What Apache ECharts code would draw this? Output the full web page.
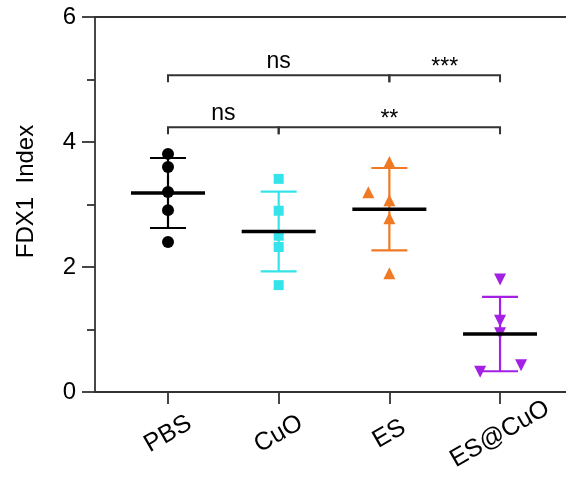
<!DOCTYPE html>
<html>
<head>
<meta charset="utf-8">
<script src="https://cdn.jsdelivr.net/npm/echarts@6/dist/echarts.min.js"></script>
<style>
  html, body { margin: 0; padding: 0; background: #ffffff; }
  #chart { width: 566px; height: 486px; }
</style>
</head>
<body>
<div id="chart"></div>
<script>
// Groups and per-animal FDX1 index values
const groups = ['PBS', 'CuO', 'ES', 'ES@CuO'];
const pbsValues = [3.81, 3.60, 3.20, 2.91, 2.40];
const cuoValues = [3.41, 2.90, 2.50, 2.32, 1.71];
const esValues = [3.68, 3.195, 3.07, 2.78, 1.90];
const esCuoValues = [1.80, 1.14, 0.94, 0.325, 0.43];
// Horizontal spread of overlapping points inside a group (category units)
const pbsSpread = [0, 0, 0, 0, 0];
const cuoSpread = [0, 0, 0, 0, 0];
const esSpread = [0, -0.19, 0, 0, 0];
const esCuoSpread = [0, 0, 0, -0.18, 0.19];
// Y axis ticks
const yTickValues = [0, 2, 4, 6];
// Pairwise comparison brackets: group positions, bracket height, significance text
const compFrom = [1, 3, 1, 2];
const compTo = [3, 4, 2, 4];
const compLevel = [5.07, 5.07, 4.235, 4.235];
const compText = ['ns', '***', 'ns', '**'];

const groupValues = [pbsValues, cuoValues, esValues, esCuoValues];
const groupSpread = [pbsSpread, cuoSpread, esSpread, esCuoSpread];
const groupColors = ['#000000', '#35e4ea', '#f07a24', '#a320e4'];
const groupSymbols = ['circle', 'rect', 'triangle', 'triangle'];
const groupSymbolSize = [12, 10, 12, 12];
const groupSymbolRotate = [0, 0, 0, 180];
const FONT = '"Liberation Sans", Arial, Helvetica, sans-serif';

function mean(a) { return a.reduce((s, v) => s + v, 0) / a.length; }
function sd(a) {
  const m = mean(a);
  return Math.sqrt(a.reduce((s, v) => s + (v - m) * (v - m), 0) / (a.length - 1));
}

const summary = groupValues.map((vals, i) => [i + 1, mean(vals), sd(vals)]);

const scatterSeries = groupValues.map((vals, i) => ({
  type: 'scatter',
  name: groups[i],
  z: 3,
  symbol: groupSymbols[i],
  symbolSize: groupSymbolSize[i],
  symbolRotate: groupSymbolRotate[i],
  itemStyle: { color: groupColors[i], opacity: 1 },
  data: vals.map((v, j) => [i + 1 + groupSpread[i][j], v]),
  silent: true
}));

// Mean ± SD whiskers with caps, drawn in the group colour
const errorBarSeries = {
  type: 'custom',
  z: 2,
  silent: true,
  data: summary,
  renderItem(params, api) {
    const x = api.value(0), m = api.value(1), s = api.value(2);
    const top = api.coord([x, m + s]);
    const bot = api.coord([x, m - s]);
    const cap = 18;
    const color = groupColors[params.dataIndex];
    const style = { stroke: color, lineWidth: 2.2 };
    return {
      type: 'group',
      children: [
        { type: 'line', shape: { x1: top[0], y1: top[1], x2: bot[0], y2: bot[1] }, style },
        { type: 'line', shape: { x1: top[0] - cap, y1: top[1], x2: top[0] + cap, y2: top[1] }, style },
        { type: 'line', shape: { x1: bot[0] - cap, y1: bot[1], x2: bot[0] + cap, y2: bot[1] }, style }
      ]
    };
  }
};

// Black mean bar across each group
const meanSeries = {
  type: 'custom',
  z: 4,
  silent: true,
  data: summary,
  renderItem(params, api) {
    const p = api.coord([api.value(0), api.value(1)]);
    const half = 37;
    return {
      type: 'line',
      shape: { x1: p[0] - half, y1: p[1], x2: p[0] + half, y2: p[1] },
      style: { stroke: '#000000', lineWidth: 3.6 }
    };
  }
};

// Significance brackets with their labels
const bracketSeries = {
  type: 'custom',
  z: 5,
  silent: true,
  clip: false,
  data: compFrom.map((f, i) => [f, compTo[i], compLevel[i]]),
  renderItem(params, api) {
    const a = api.coord([api.value(0), api.value(2)]);
    const b = api.coord([api.value(1), api.value(2)]);
    const drop = 7;
    const text = compText[params.dataIndex];
    const isStar = text.indexOf('*') >= 0;
    return {
      type: 'group',
      children: [
        {
          type: 'polyline',
          shape: { points: [[a[0], a[1] + drop], [a[0], a[1]], [b[0], b[1]], [b[0], b[1] + drop]] },
          style: { stroke: '#333333', lineWidth: 2, fill: null }
        },
        {
          type: 'text',
          style: {
            text: text,
            x: (a[0] + b[0]) / 2,
            y: isStar ? a[1] + 4 : a[1] - 2,
            align: 'center',
            verticalAlign: 'bottom',
            font: (isStar ? '23px ' : '23px ') + FONT,
            fill: '#000000'
          }
        }
      ]
    };
  }
};

const axisColor = '#333333';
const chart = echarts.init(document.getElementById('chart'), null, { renderer: 'canvas' });
chart.setOption({
  animation: false,
  backgroundColor: '#ffffff',
  grid: { left: 95, right: 0, top: 17, bottom: 94, containLabel: false },
  xAxis: [{
    type: 'value',
    min: 0.3404,
    max: 4.596,
    splitLine: { show: false },
    axisLine: { show: true, onZero: false, lineStyle: { color: axisColor, width: 1.8 } },
    axisTick: { show: true, length: 12, customValues: [1, 2, 3, 4], lineStyle: { color: axisColor, width: 1.8 } },
    axisLabel: {
      show: true,
      customValues: [1, 2, 3, 4],
      formatter: v => groups[Math.round(v) - 1],
      rotate: 30,
      align: 'center',
      verticalAlign: 'middle',
      margin: 42,
      fontSize: 25,
      fontFamily: FONT,
      color: '#000000'
    }
  }, {
    type: 'value',
    position: 'top',
    min: 0.3404,
    max: 4.596,
    splitLine: { show: false },
    axisLine: { show: true, onZero: false, lineStyle: { color: axisColor, width: 1.8 } },
    axisTick: { show: false },
    axisLabel: { show: false }
  }],
  yAxis: {
    type: 'value',
    min: yTickValues[0],
    max: yTickValues[yTickValues.length - 1],
    interval: 2,
    name: 'FDX1  Index',
    nameLocation: 'middle',
    nameGap: 57,
    nameTextStyle: { fontSize: 24, fontFamily: FONT, color: '#000000', padding: [0, 0, 0, 26] },
    splitLine: { show: false },
    axisLine: { show: true, onZero: false, lineStyle: { color: axisColor, width: 1.8 } },
    axisTick: { show: true, length: 13, lineStyle: { color: axisColor, width: 1.8 } },
    minorTick: { show: true, splitNumber: 2, length: 8, lineStyle: { color: axisColor, width: 1.8 } },
    axisLabel: { margin: 19, fontSize: 24, fontFamily: FONT, color: '#000000' }
  },
  series: [errorBarSeries, ...scatterSeries, meanSeries, bracketSeries]
});
</script>
</body>
</html>
